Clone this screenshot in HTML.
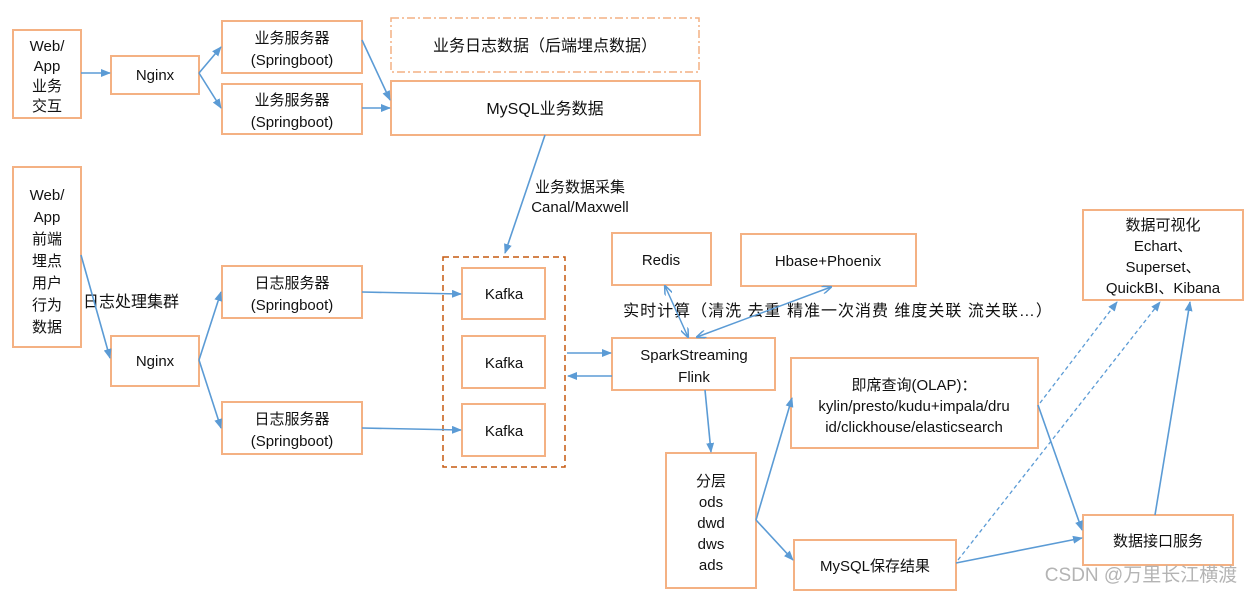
<!DOCTYPE html>
<html><head><meta charset="utf-8"><style>
body{margin:0;background:#fff;}
svg{display:block;font-family:"Liberation Sans","Noto Sans CJK SC",sans-serif;}
text{font-size:15px;fill:#111;text-anchor:middle;}
.b{fill:#fff;stroke:#f4b183;stroke-width:2;}
.l{stroke:#5b9bd5;stroke-width:1.6;fill:none;marker-end:url(#a);}
.d{stroke:#5b9bd5;stroke-width:1.3;fill:none;stroke-dasharray:4,3;marker-end:url(#a);}
</style></head><body>
<svg width="1258" height="592" viewBox="0 0 1258 592">
<defs><marker id="a" markerWidth="10" markerHeight="8" refX="9" refY="4" orient="auto" markerUnits="userSpaceOnUse"><path d="M0,0 L10,4 L0,8 z" fill="#5b9bd5"/></marker>
<marker id="s" markerWidth="10" markerHeight="8" refX="1" refY="4" orient="auto" markerUnits="userSpaceOnUse"><path d="M10,0 L0,4 L10,8" fill="none" stroke="#5b9bd5" stroke-width="1.5"/></marker>
<marker id="e" markerWidth="10" markerHeight="8" refX="9" refY="4" orient="auto" markerUnits="userSpaceOnUse"><path d="M0,0 L10,4 L0,8" fill="none" stroke="#5b9bd5" stroke-width="1.5"/></marker></defs>

<rect class="b" x="13" y="30" width="68" height="88"/>
<text x="47" y="51">Web/</text><text x="47" y="71">App</text><text x="47" y="91">业务</text><text x="47" y="111">交互</text>
<rect class="b" x="111" y="56" width="88" height="38"/><text x="155" y="80">Nginx</text>
<rect class="b" x="222" y="21" width="140" height="52"/><text x="292" y="43">业务服务器</text><text x="292" y="65">(Springboot)</text>
<rect class="b" x="222" y="84" width="140" height="50"/><text x="292" y="105">业务服务器</text><text x="292" y="127">(Springboot)</text>
<rect x="391" y="18" width="308" height="54" fill="#fff" stroke="#f4b183" stroke-width="1.5" stroke-dasharray="8,3,2,3"/><text x="545" y="51" style="font-size:16px">业务日志数据（后端埋点数据）</text>
<rect class="b" x="391" y="81" width="309" height="54"/><text x="545" y="114" style="font-size:16px">MySQL业务数据</text>

<rect class="b" x="13" y="167" width="68" height="180"/>
<text x="47" y="200">Web/</text><text x="47" y="222">App</text><text x="47" y="244">前端</text><text x="47" y="266">埋点</text><text x="47" y="288">用户</text><text x="47" y="310">行为</text><text x="47" y="332">数据</text>
<text x="131" y="307" style="font-size:16px">日志处理集群</text>
<rect class="b" x="111" y="336" width="88" height="50"/><text x="155" y="366">Nginx</text>
<rect class="b" x="222" y="266" width="140" height="52"/><text x="292" y="288">日志服务器</text><text x="292" y="310">(Springboot)</text>
<rect class="b" x="222" y="402" width="140" height="52"/><text x="292" y="424">日志服务器</text><text x="292" y="446">(Springboot)</text>

<text x="580" y="192">业务数据采集</text><text x="580" y="212">Canal/Maxwell</text>
<rect x="443" y="257" width="122" height="210" fill="none" stroke="#c55a11" stroke-width="1.5" stroke-dasharray="6,4"/>
<rect class="b" x="462" y="268" width="83" height="51"/><text x="504" y="299">Kafka</text>
<rect class="b" x="462" y="336" width="83" height="52"/><text x="504" y="368">Kafka</text>
<rect class="b" x="462" y="404" width="83" height="52"/><text x="504" y="436">Kafka</text>

<rect class="b" x="612" y="233" width="99" height="52"/><text x="661" y="265">Redis</text>
<rect class="b" x="741" y="234" width="175" height="52"/><text x="828" y="266">Hbase+Phoenix</text>
<text x="838" y="316" style="font-size:16px;letter-spacing:1px">实时计算（清洗 去重 精准一次消费 维度关联 流关联…）</text>
<rect class="b" x="612" y="338" width="163" height="52"/><text x="694" y="360">SparkStreaming</text><text x="694" y="382">Flink</text>
<rect class="b" x="791" y="358" width="247" height="90"/><text x="914" y="390">即席查询(OLAP)：</text><text x="914" y="411">kylin/presto/kudu+impala/dru</text><text x="914" y="432">id/clickhouse/elasticsearch</text>
<rect class="b" x="666" y="453" width="90" height="135"/><text x="711" y="486">分层</text><text x="711" y="507">ods</text><text x="711" y="528">dwd</text><text x="711" y="549">dws</text><text x="711" y="570">ads</text>
<rect class="b" x="794" y="540" width="162" height="50"/><text x="875" y="571">MySQL保存结果</text>
<rect class="b" x="1083" y="210" width="160" height="90"/><text x="1163" y="230">数据可视化</text><text x="1163" y="251">Echart、</text><text x="1163" y="272">Superset、</text><text x="1163" y="293">QuickBI、Kibana</text>
<rect class="b" x="1083" y="515" width="150" height="50"/><text x="1158" y="546">数据接口服务</text>

<line class="l" x1="81" y1="73" x2="110" y2="73"/>
<line class="l" x1="199" y1="73" x2="221" y2="47"/>
<line class="l" x1="199" y1="73" x2="221" y2="108"/>
<line class="l" x1="362" y1="40" x2="390" y2="100"/>
<line class="l" x1="362" y1="108" x2="390" y2="108"/>
<line class="l" x1="545" y1="135" x2="505" y2="253"/>
<line class="l" x1="81" y1="255" x2="110" y2="358"/>
<line class="l" x1="199" y1="360" x2="221" y2="292"/>
<line class="l" x1="199" y1="360" x2="221" y2="428"/>
<line class="l" x1="362" y1="292" x2="461" y2="294"/>
<line class="l" x1="362" y1="428" x2="461" y2="430"/>
<line class="l" x1="567" y1="353" x2="611" y2="353"/>
<line class="l" x1="612" y1="376" x2="568" y2="376"/>
<line x1="665" y1="286" x2="688" y2="337" stroke="#5b9bd5" stroke-width="1.5" marker-start="url(#s)" marker-end="url(#e)"/>
<line x1="697" y1="337" x2="831" y2="287" stroke="#5b9bd5" stroke-width="1.5" marker-start="url(#s)" marker-end="url(#e)"/>
<line class="l" x1="705" y1="390" x2="711" y2="452"/>
<line class="l" x1="756" y1="520" x2="792" y2="398"/>
<line class="l" x1="756" y1="520" x2="793" y2="560"/>
<line class="l" x1="1038" y1="405" x2="1082" y2="530"/>
<line class="l" x1="956" y1="563" x2="1082" y2="538"/>
<line class="d" x1="1040" y1="403" x2="1117" y2="302"/>
<line class="d" x1="958" y1="560" x2="1160" y2="302"/>
<line class="l" x1="1155" y1="515" x2="1190" y2="302"/>
<text x="1141" y="581" style="font-size:19px;fill:#b4b4b4">CSDN @万里长江横渡</text>
</svg>
</body></html>
